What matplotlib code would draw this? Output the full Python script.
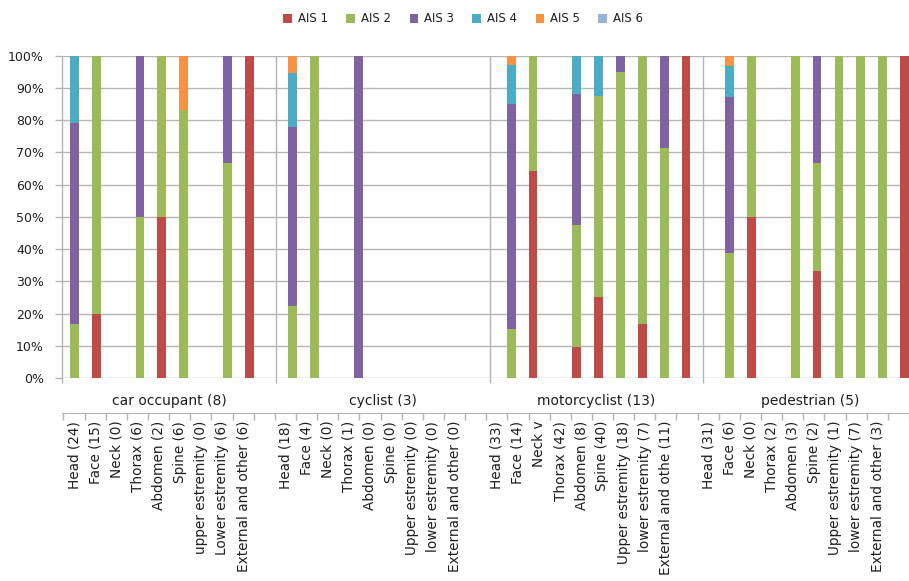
import numpy as np
import matplotlib
matplotlib.use("Agg")
import matplotlib.pyplot as plt

plt.rcParams['font.family'] = ['DejaVu Sans']

# ---------------- data ----------------
groups = ["car occupant (8)", "cyclist (3)", "motorcyclist (13)", "pedestrian (5)"]

labels_car = ["Head (24)", "Face (15)", "Neck (0)", "Thorax (6)", "Abdomen (2)", "Spine (6)",
              "upper estremity (0)", "Lower estremity (6)", "External and other (6)", ""]
labels_cyc = ["Head (18)", "Face (4)", "Neck (0)", "Thorax (1)", "Abdomen (0)", "Spine (0)",
              "Upper estremity (0)", "lower estremity (0)", "External and other (0)", ""]
labels_moto = ["Head (33)", "Face (14)", "Neck v", "Thorax (42)", "Abdomen (8)", "Spine (40)",
               "Upper estremity (18)", "lower estremity (7)", "External and othe (11)", ""]
labels_ped = ["Head (31)", "Face (6)", "Neck (0)", "Thorax (2)", "Abdomen (3)", "Spine (2)",
              "Upper estremity (1)", "lower estremity (7)", "External and other (3)", ""]
categories = labels_car + labels_cyc + labels_moto + labels_ped

series_names = ["AIS 1", "AIS 2", "AIS 3", "AIS 4", "AIS 5", "AIS 6"]

# percentages, 10 slots per group (last slot of each group is blank)
ais1 = [0, 20, 0, 0, 50, 0, 0, 0, 100, 0,
        0, 0, 0, 0, 0, 0, 0, 0, 0, 0,
        0, 64.3, 0, 9.5, 25, 0, 16.7, 0, 100, 0,
        0, 50, 0, 0, 33.3, 0, 0, 0, 100, 0]
ais2 = [16.7, 80, 0, 50, 50, 83.3, 0, 66.7, 0, 0,
        22.2, 100, 0, 0, 0, 0, 0, 0, 0, 0,
        15.2, 35.7, 0, 38.1, 62.5, 95, 83.3, 71.4, 0, 0,
        38.7, 50, 0, 100, 33.3, 100, 100, 100, 0, 0]
ais3 = [62.5, 0, 0, 50, 0, 0, 0, 33.3, 0, 0,
        55.6, 0, 0, 100, 0, 0, 0, 0, 0, 0,
        69.7, 0, 0, 40.5, 0, 5, 0, 28.6, 0, 0,
        48.4, 0, 0, 0, 33.4, 0, 0, 0, 0, 0]
ais4 = [20.8, 0, 0, 0, 0, 0, 0, 0, 0, 0,
        16.7, 0, 0, 0, 0, 0, 0, 0, 0, 0,
        12.1, 0, 0, 11.9, 12.5, 0, 0, 0, 0, 0,
        9.7, 0, 0, 0, 0, 0, 0, 0, 0, 0]
ais5 = [0, 0, 0, 0, 0, 16.7, 0, 0, 0, 0,
        5.5, 0, 0, 0, 0, 0, 0, 0, 0, 0,
        3.0, 0, 0, 0, 0, 0, 0, 0, 0, 0,
        3.2, 0, 0, 0, 0, 0, 0, 0, 0, 0]
ais6 = [0] * 40

colors = ["#BE4B48", "#9BBB59", "#7F62A1", "#4AACC5", "#F59342", "#95B3D7"]

# ---------------- layout ----------------
W, H = 909, 581
fig = plt.figure(figsize=(W / 100, H / 100), dpi=100)
grid_c = "#B4B4B4"
text_c = "#1E1E1E"

ax_left = 62 / W
ax_bot = (H - 378) / H
ax_top = (H - 55.7) / H
ax = fig.add_axes([ax_left, ax_bot, 1 - ax_left, ax_top - ax_bot])

x = np.arange(len(categories))
series = [ais1, ais2, ais3, ais4, ais5, ais6]
bottom = np.zeros(len(categories))
for name, vals, c in zip(series_names, series, colors):
    v = np.array(vals, dtype=float)
    ax.bar(x, v, width=0.4, bottom=bottom, color=c, label=name, linewidth=0, zorder=3)
    bottom += v

x_lo, x_hi = -0.57, 38.21
ax.set_xlim(x_lo, x_hi)
ax.set_ylim(0, 100)
ax.set_yticks(np.arange(0, 101, 10))
ax.set_yticklabels([f"{t}%" for t in range(0, 101, 10)], fontsize=9, color=text_c)
ax.tick_params(axis='y', length=5, color=grid_c, width=1, pad=8)
ax.set_xticks([])
ax.grid(axis='y', color=grid_c, linewidth=1, zorder=0)
for s in ax.spines.values():
    s.set_visible(False)

# group dividers and group labels
group_step = 9.79
dividers = [x_lo + group_step * k for k in range(4)]
ax.vlines(dividers, -0.016, 1, transform=ax.get_xaxis_transform(), color=grid_c,
          linewidth=1, clip_on=False, zorder=1)
for k, g in enumerate(groups):
    ax.text(x_lo + group_step * (k + 0.5), -0.072, g, transform=ax.get_xaxis_transform(),
            ha='center', va='center', fontsize=10, color=text_c, clip_on=False)

# lower category axis
ax2_y = (H - 413) / H
ax2 = fig.add_axes([ax_left, ax2_y, 1 - ax_left, 1e-4])
ax2.set_xlim(x_lo, x_hi)
ax2.patch.set_visible(False)
for side in ["top", "left", "right"]:
    ax2.spines[side].set_visible(False)
ax2.spines["bottom"].set_color(grid_c)
ax2.set_yticks([])
ax2.set_xticks(np.arange(-0.5, len(categories), 1.0))
ax2.set_xticklabels([])
ax2.set_xticks(x, minor=True)
ax2.set_xticklabels(categories, minor=True, rotation=90, fontsize=9.8, color=text_c)
ax2.tick_params(axis='x', which='major', length=5, color=grid_c, width=1, direction='out')
ax2.tick_params(axis='x', which='minor', length=0, pad=5.5)

# legend
handles, lbls = ax.get_legend_handles_labels()
fig.legend(handles, lbls, ncol=6, loc='center', bbox_to_anchor=(463 / W, 1 - 19 / H),
           frameon=False, fontsize=8.5, handlelength=0.75, handleheight=0.75,
           handletextpad=0.45, columnspacing=1.6, labelcolor=text_c)

fig.savefig("out.png", dpi=100)
